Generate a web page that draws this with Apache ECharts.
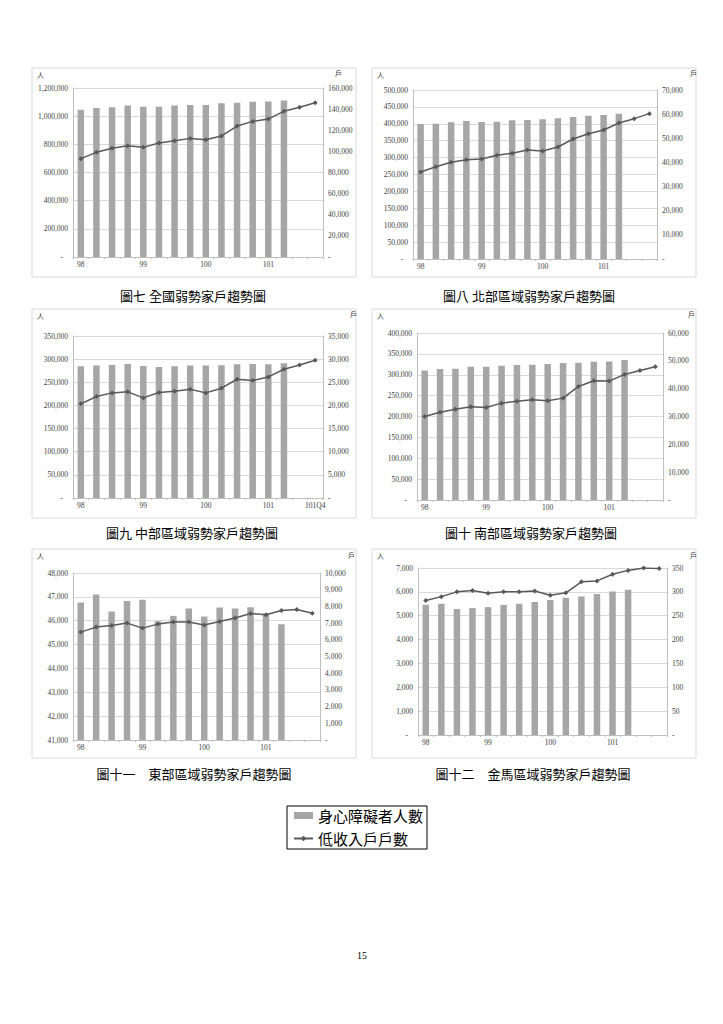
<!DOCTYPE html>
<html><head><meta charset="utf-8">
<script src="https://cdn.jsdelivr.net/npm/echarts@6/dist/echarts.min.js"></script>
<style>html,body{margin:0;padding:0;background:#fff}#c{width:723px;height:1024px}</style>
</head><body><div id="c"></div>
<script>
// ---- data ----
const quarters = ['98Q1','98Q2','98Q3','98Q4','99Q1','99Q2','99Q3','99Q4','100Q1','100Q2','100Q3','100Q4','101Q1','101Q2','101Q3','101Q4'];
const xTickLabels = ['98','','','','99','','','','100','','','','101','','',''];
const xTickLabelsCentral = ['98','','','','99','','','','100','','','','101','','','101Q4'];
const seriesNames = ['身心障礙者人數', '低收入戶戶數'];
const captions = ['圖七 全國弱勢家戶趨勢圖','圖八 北部區域弱勢家戶趨勢圖','圖九 中部區域弱勢家戶趨勢圖','圖十 南部區域弱勢家戶趨勢圖','圖十一　東部區域弱勢家戶趨勢圖','圖十二　金馬區域弱勢家戶趨勢圖'];

const disabledNational = [1046000,1058000,1063000,1075000,1067000,1067000,1075000,1079000,1079000,1091000,1096000,1103000,1105000,1112000];
const lowIncomeNational = [93100,99100,102900,105400,103800,107900,110100,112300,111100,114600,124000,128400,130700,137900,141700,146100];

const disabledNorth = [399400,400400,404300,408300,405300,406300,410300,411200,413200,416200,420100,424100,426000,430000];
const lowIncomeNorth = [36040,38240,40040,41140,41420,42940,43770,45150,44730,46390,49700,51910,53430,56330,58130,60200];

const disabledCentral = [284600,286000,287500,289600,285300,283200,284600,286000,286000,286800,288900,289600,288900,291100];
const lowIncomeCentral = [20340,21920,22710,22930,21630,22780,23070,23500,22710,23720,25660,25370,26160,27810,28750,29750];

const disabledSouth = [310400,313600,314400,319200,319200,321600,323200,324000,325600,328000,328800,331200,332000,335200];
const lowIncomeSouth = [30000,31560,32640,33480,33240,34800,35520,36000,35640,36600,40800,42840,42720,45120,46560,47880];

const disabledEast = [46760,47095,46385,46830,46875,45980,46205,46510,46175,46555,46510,46565,46300,45850];
const lowIncomeEast = [6460,6760,6860,7000,6700,6940,7060,7060,6880,7100,7300,7575,7495,7750,7810,7595];

const disabledKinmen = [5460,5500,5280,5320,5360,5445,5500,5570,5655,5755,5810,5910,6020,6090];
const lowIncomeKinmen = [282,290,300,303,297,300,300,302,293,298,321,323,337,345,350,349];

// axis scales: [min, max, step]
const leftAxes  = [[0,1200000,200000],[0,500000,50000],[0,350000,50000],[0,400000,50000],[41000,48000,1000],[0,7000,1000]];
const rightAxes = [[0,160000,20000],[0,70000,10000],[0,35000,5000],[0,60000,10000],[0,10000,1000],[0,350,50]];

const chartData = [
  [disabledNational, lowIncomeNational, xTickLabels],
  [disabledNorth, lowIncomeNorth, xTickLabels],
  [disabledCentral, lowIncomeCentral, xTickLabelsCentral],
  [disabledSouth, lowIncomeSouth, xTickLabels],
  [disabledEast, lowIncomeEast, xTickLabels],
  [disabledKinmen, lowIncomeKinmen, xTickLabels]
];

// ---- layout ----
const boxes = [[32,68,324,209],[372,68,324,209],[32,309,324,209],[372,309,324,209],[32,549,324,209],[372,549,324,209]];
const grids = [[73,88,250,169],[413,90,244,169],[73,336,250,162],[417,333,246,167],[73,573,247,167],[418,568,249,167]];
const unitPos = [[[37,75],[335,73]],[[377,75],[690,73]],[[37,316],[350,314]],[[377,316],[688,314]],[[37,556],[348,555]],[[377,556],[690,555]]];
const captionPos = [[193,295],[529,295],[192,532],[531,532],[194,773],[533,773]];

const BAR = '#a6a6a6', LINE = '#595959', GRIDC = '#d9d9d9', AXC = '#bfbfbf', TXT = '#404040';
const numFont = 'Liberation Serif';

function fmt(v){ return v.toLocaleString('en-US'); }

const option = {
  animation: false,
  backgroundColor: '#fff',
  grid: [], xAxis: [], yAxis: [], series: [], graphic: [],
  legend: {
    orient: 'vertical', left: 287, top: 806,
    data: [{name: seriesNames[0], icon: 'rect'}, {name: seriesNames[1]}],
    borderColor: '#000', borderWidth: 1, padding: [2,4,3,6], itemGap: 8,
    itemWidth: 19, itemHeight: 7,
    textStyle: {fontSize: 15, lineHeight: 15, fontFamily: 'Noto Sans CJK TC', color: '#000'}
  }
};

chartData.forEach((cd, i) => {
  const [bars, line, labels] = cd;
  const g = grids[i];
  option.grid.push({left: g[0], top: g[1], width: g[2], height: g[3], containLabel: false});
  option.xAxis.push({
    type: 'category', gridIndex: i, data: quarters, boundaryGap: true,
    axisLine: {show: true, lineStyle: {color: AXC}},
    axisTick: {show: true, interval: 0, length: 2, lineStyle: {color: AXC}},
    axisLabel: {interval: 0, margin: 3, fontSize: 7.5, fontFamily: numFont, color: TXT,
      formatter: (v, idx) => labels[idx]},
    splitLine: {show: false}
  });
  const la = leftAxes[i], ra = rightAxes[i];
  option.yAxis.push({
    type: 'value', gridIndex: i, position: 'left', min: la[0], max: la[1], interval: la[2],
    axisLine: {show: true, lineStyle: {color: AXC}},
    axisTick: {show: false},
    axisLabel: {margin: 5, fontSize: 7.5, fontFamily: numFont, color: TXT,
      formatter: v => v === 0 ? '{z|-}' : fmt(v),
      rich: {z: {padding: [0,5,0,0], fontSize: 7.5, fontFamily: numFont, color: TXT}}},
    splitLine: {show: true, lineStyle: {color: GRIDC, width: 1}}
  });
  option.yAxis.push({
    type: 'value', gridIndex: i, position: 'right', min: ra[0], max: ra[1], interval: ra[2],
    axisLine: {show: true, lineStyle: {color: AXC}},
    axisTick: {show: false},
    axisLabel: {margin: 5, fontSize: 7.5, fontFamily: numFont, color: TXT,
      formatter: v => v === 0 ? '-' : fmt(v)},
    splitLine: {show: false}
  });
  option.series.push({
    name: seriesNames[0], type: 'bar', xAxisIndex: i, yAxisIndex: 2*i, data: bars,
    barWidth: 6.5, itemStyle: {color: BAR}, z: 2
  });
  option.series.push({
    name: seriesNames[1], type: 'line', xAxisIndex: i, yAxisIndex: 2*i+1, data: line,
    symbol: 'diamond', symbolSize: 5, lineStyle: {color: LINE, width: 1.5},
    itemStyle: {color: LINE}, z: 3
  });
  const b = boxes[i];
  option.graphic.push({type: 'rect', shape: {x: b[0], y: b[1], width: b[2], height: b[3]},
    style: {fill: 'none', stroke: GRIDC, lineWidth: 1}, z: -1, silent: true});
  option.graphic.push({type: 'text', x: unitPos[i][0][0], y: unitPos[i][0][1],
    style: {text: '人', font: '7px "Noto Sans CJK TC"', fill: TXT, textAlign: 'left', textVerticalAlign: 'middle'}});
  option.graphic.push({type: 'text', x: unitPos[i][1][0], y: unitPos[i][1][1],
    style: {text: '戶', font: '7px "Noto Sans CJK TC"', fill: TXT, textAlign: 'left', textVerticalAlign: 'middle'}});
  option.graphic.push({type: 'text', x: captionPos[i][0], y: captionPos[i][1],
    style: {text: captions[i], font: '13px "Noto Sans CJK TC"', fill: '#000', textAlign: 'center', textVerticalAlign: 'middle'}});
});

option.graphic.push({type: 'text', x: 362, y: 955,
  style: {text: '15', font: '10px "Liberation Serif"', fill: '#000', textAlign: 'center', textVerticalAlign: 'middle'}});

const chart = echarts.init(document.getElementById('c'), null, {renderer: 'svg', width: 723, height: 1024});
chart.setOption(option);
</script>
</body></html>
